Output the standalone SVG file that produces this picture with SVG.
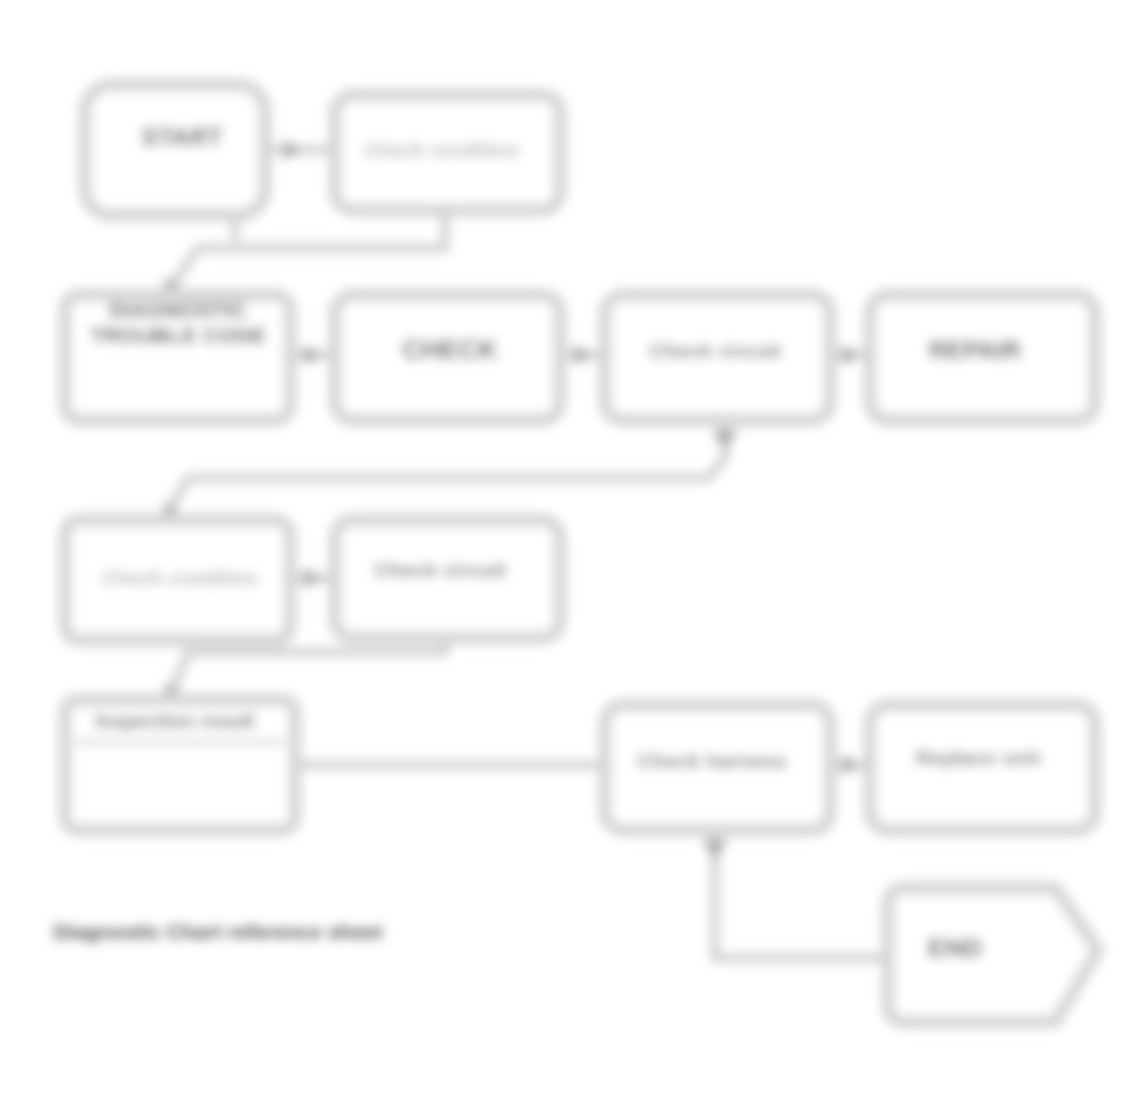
<svg xmlns="http://www.w3.org/2000/svg" width="1137" height="1112" viewBox="0 0 1137 1112">
<defs>
<filter id="soft" x="-5%" y="-5%" width="110%" height="110%"><feGaussianBlur stdDeviation="5.5"/></filter>
</defs>
<style>
.box{fill:#ffffff;stroke:#d6d6d6;stroke-width:13}
.inner{fill:none;stroke:#e4e4e4;stroke-width:7}
.edge{fill:none;stroke:#d2d2d2;stroke-width:9}
.head{fill:#acacac}
.t{font-family:"Liberation Sans",Arial,sans-serif;font-size:21px;font-weight:bold;text-anchor:middle;fill:#6a6a6a}
.tb{font-family:"Liberation Sans",Arial,sans-serif;font-size:25px;font-weight:bold;text-anchor:middle;fill:#404040}
.tl{font-family:"Liberation Sans",Arial,sans-serif;font-size:20px;font-weight:bold;text-anchor:middle;fill:#b0b0b0}
</style>
<rect width="1137" height="1112" fill="#ffffff"/>
<g filter="url(#soft)">
<g id="connectors">
<path class="edge" d="M265,150 H335"/>
<path class="head" d="M302,150 L284,140 L284,160 z"/>
<path class="edge" d="M445,210 V248 H198 L172,286"/>
<path class="head" d="M166,296 L164,277 L180,286 z"/>
<path class="edge" d="M235,215 V240"/>
<path class="edge" d="M290,355 H335"/>
<path class="head" d="M322,355 L304,345 L304,365 z"/>
<path class="edge" d="M560,355 H605"/>
<path class="head" d="M592,355 L574,345 L574,365 z"/>
<path class="edge" d="M830,355 H870"/>
<path class="head" d="M860,355 L842,345 L842,365 z"/>
<path class="edge" d="M725,420 V458 L708,478 H188 L170,510"/>
<path class="head" d="M725,450 L712,430 L738,430 z"/>
<path class="head" d="M165,521 L163,502 L179,511 z"/>
<path class="edge" d="M290,578 H335"/>
<path class="head" d="M322,578 L304,568 L304,588 z"/>
<path class="edge" d="M445,636 V652 H188 L172,692"/>
<path class="head" d="M168,703 L163,684 L180,690 z"/>
<path class="edge" d="M295,765 H605"/>
<path class="edge" d="M830,765 H870"/>
<path class="head" d="M860,765 L842,755 L842,775 z"/>
<path class="edge" d="M715,830 V958 H885"/>
<path class="head" d="M715,860 L702,840 L728,840 z"/>
</g>
<g id="nodeA">
<rect class="box" x="85" y="85" width="180" height="130" rx="26"/>
<text class="tb" x="182" y="146">START</text>
</g>
<g id="nodeB">
<rect class="box" x="335" y="95" width="225" height="115" rx="18"/>
<text class="tl" x="442" y="157">Check condition</text>
</g>
<g id="nodeC">
<rect class="box" x="65" y="295" width="225" height="125" rx="14"/>
<text class="tb" x="178" y="318" style="font-size:22px;fill:#303030">DIAGNOSTIC</text>
<text class="tb" x="178" y="343" style="font-size:22px;fill:#303030">TROUBLE CODE</text>
</g>
<g id="nodeD">
<rect class="box" x="335" y="295" width="225" height="125" rx="18"/>
<text class="tb" x="450" y="359" style="font-size:27px">CHECK</text>
</g>
<g id="nodeE">
<rect class="box" x="605" y="295" width="225" height="125" rx="18"/>
<text class="t" x="715" y="358">Check circuit</text>
</g>
<g id="nodeF">
<rect class="box" x="870" y="295" width="225" height="125" rx="18"/>
<text class="tb" x="975" y="359">REPAIR</text>
</g>
<g id="nodeG">
<rect class="box" x="65" y="520" width="225" height="120" rx="14"/>
<text class="tl" x="180" y="585">Check condition</text>
</g>
<g id="nodeH">
<rect class="box" x="335" y="520" width="225" height="118" rx="18"/>
<text class="t" x="440" y="577">Check circuit</text>
</g>
<g id="nodeI">
<rect class="box" x="65" y="700" width="230" height="130" rx="12"/>
<line class="inner" x1="74" y1="742" x2="286" y2="742"/>
<text class="t" x="175" y="728" style="font-size:20px;fill:#585858">Inspection result</text>
</g>
<g id="nodeJ">
<rect class="box" x="605" y="705" width="225" height="125" rx="18"/>
<text class="t" x="712" y="768">Check harness</text>
</g>
<g id="nodeK">
<rect class="box" x="870" y="705" width="225" height="125" rx="18"/>
<text class="t" x="978" y="765">Replace unit</text>
</g>
<g id="nodeL">
<path class="box" d="M905,888 H1055 L1098,950 L1055,1022 H905 Q888,1022 888,1005 V905 Q888,888 905,888 z"/>
<text class="tb" x="955" y="957" style="font-size:26px">END</text>
</g>
<text class="tb" x="218" y="939" style="font-size:21px;fill:#505050">Diagnostic Chart reference sheet</text>
</g>
</svg>
